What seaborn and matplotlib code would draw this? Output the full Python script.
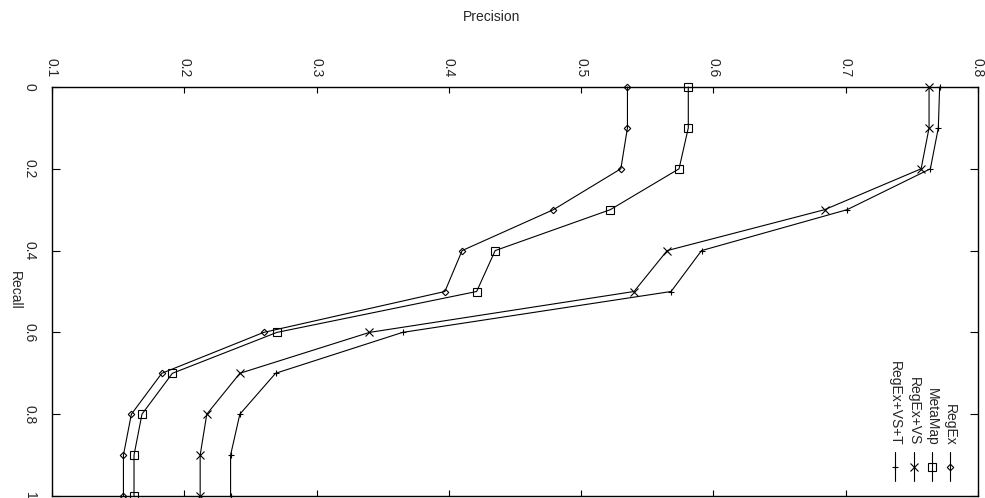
import numpy as np
import pandas as pd
import matplotlib
matplotlib.use("Agg")
import matplotlib.pyplot as plt
import seaborn as sns
from matplotlib.lines import Line2D

# ---- data ----
recall = [0.0, 0.1, 0.2, 0.3, 0.4, 0.5, 0.6, 0.7, 0.8, 0.9, 1.0]
regex = [0.535, 0.535, 0.530, 0.479, 0.410, 0.397, 0.260, 0.183, 0.160, 0.154, 0.154]
metamap = [0.581, 0.581, 0.574, 0.522, 0.435, 0.421, 0.270, 0.191, 0.168, 0.162, 0.162]
regex_vs = [0.763, 0.763, 0.757, 0.684, 0.565, 0.540, 0.340, 0.242, 0.217, 0.212, 0.212]
regex_vs_t = [0.771, 0.770, 0.764, 0.701, 0.591, 0.568, 0.365, 0.269, 0.242, 0.235, 0.235]

methods = ["RegEx", "MetaMap", "RegEx+VS", "RegEx+VS+T"]
series = [regex, metamap, regex_vs, regex_vs_t]

x_ticks = [0.1, 0.2, 0.3, 0.4, 0.5, 0.6, 0.7, 0.8]
x_labels = ["0.1", "0.2", "0.3", "0.4", "0.5", "0.6", "0.7", "0.8"]
y_ticks = [0.0, 0.2, 0.4, 0.6, 0.8, 1.0]
y_labels = ["0", "0.2", "0.4", "0.6", "0.8", "1"]

# ---- styles ----
marker_style = {
    "RegEx": dict(marker="D", markersize=3.3),
    "MetaMap": dict(marker="s", markersize=5.6),
    "RegEx+VS": dict(marker="x", markersize=6.0),
    "RegEx+VS+T": dict(marker="+", markersize=5.0),
}

df = pd.concat(
    [pd.DataFrame({"Recall": recall, "Precision": vals, "Method": m})
     for m, vals in zip(methods, series)],
    ignore_index=True,
)

sns.set_style("ticks")
plt.rcParams["font.family"] = ["Liberation Sans", "DejaVu Sans"]

W, H = 985, 498
fig = plt.figure(figsize=(W / 100, H / 100), dpi=100)
ax_left, ax_right, ax_top, ax_bot = 52, 978, 87, 496
ax = fig.add_axes([ax_left / W, (H - ax_bot) / H,
                   (ax_right - ax_left) / W, (ax_bot - ax_top) / H])

for m in methods:
    sub = df[df["Method"] == m]
    sns.lineplot(data=sub, x="Precision", y="Recall", orient="y",
                 estimator=None, sort=False, ax=ax, color="black",
                 linewidth=0.8, markerfacecolor="none",
                 markeredgecolor="black", markeredgewidth=0.8,
                 legend=False, clip_on=False, zorder=3,
                 **marker_style[m])

ax.set_xlim(0.1, 0.8)
ax.set_ylim(1.0, 0.0)
ax.set_xlabel("")
ax.set_ylabel("")

ax.xaxis.tick_top()
ax.set_xticks(x_ticks, labels=x_labels, rotation=-90, ha="center", va="bottom")
ax.tick_params(axis="x", top=True, bottom=True, labeltop=True,
               labelbottom=False, direction="in", length=4.5, width=0.8,
               pad=7, labelsize=10, color="black")
ax.set_yticks(y_ticks, labels=y_labels, rotation=-90, va="center", ha="right")
ax.tick_params(axis="y", left=True, right=True, direction="in",
               length=6, width=0.8, pad=11, labelsize=10, color="black")

for s in ax.spines.values():
    s.set_visible(True)
    s.set_linewidth(1.0)
    s.set_color("black")

fig.text(492 / W, 1 - 17 / H, "Precision", ha="center", va="center", fontsize=10)
fig.text(15 / W, 1 - 290 / H, "Recall", ha="center", va="center",
         rotation=-90, fontsize=10)

# ---- legend (rotated, drawn manually) ----
def ax_x(px):
    return (px - ax_left) / (ax_right - ax_left)

def ax_y(py):
    return (ax_bot - py) / (ax_bot - ax_top)

legend_x = [950, 932, 914, 895]
for m, px in zip(methods, legend_x):
    xa = ax_x(px)
    ax.text(xa, ax_y(445.5), m, transform=ax.transAxes, rotation=-90,
            ha="center", va="bottom", fontsize=10)
    ln = Line2D([xa, xa], [ax_y(452), ax_y(481)], transform=ax.transAxes,
                color="black", linewidth=0.8)
    ax.add_line(ln)
    mk = Line2D([xa], [ax_y(466.5)], transform=ax.transAxes, linestyle="none",
                markerfacecolor="none", markeredgecolor="black",
                markeredgewidth=0.8, **marker_style[m])
    ax.add_line(mk)

fig.savefig("out.png", dpi=100)
